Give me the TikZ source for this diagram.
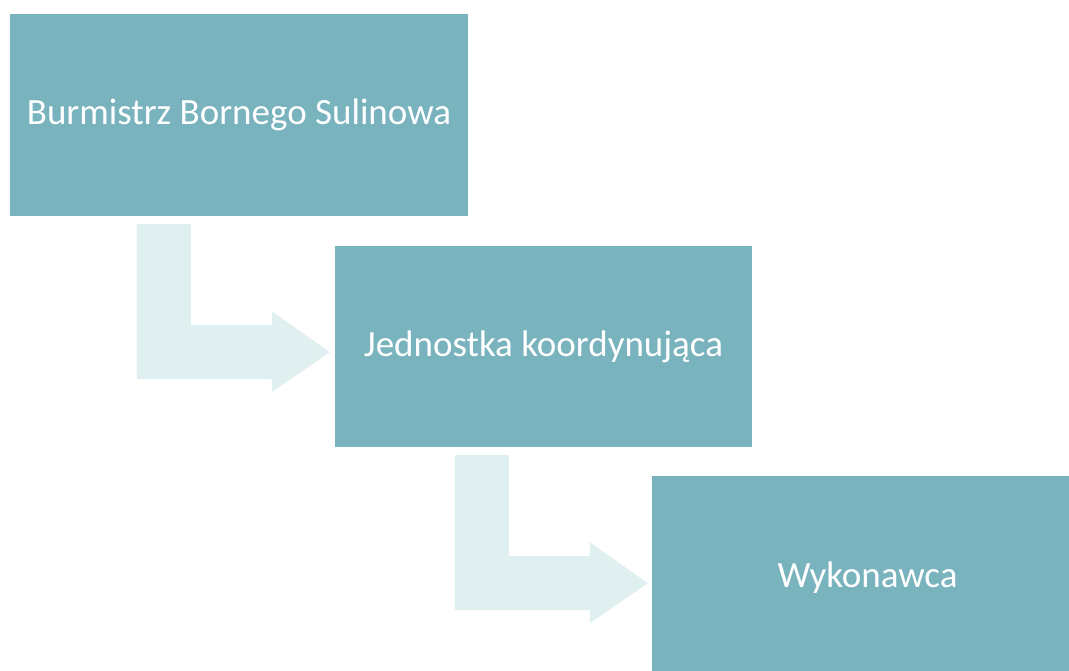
\documentclass[tikz,border=0pt]{standalone}
\usepackage{fontspec}
\setmainfont{Carlito}
\usetikzlibrary{positioning}

\definecolor{boxteal}{HTML}{78B3BE}
\definecolor{flowlight}{HTML}{E0EFF0}

\tikzset{
  orgbox/.style={fill=boxteal, text=white, inner sep=0pt, anchor=center,
    font=\fontsize{37}{44}\selectfont},
  flow/.style={fill=flowlight}
}

\begin{document}
\begin{tikzpicture}[x=1pt,y=1pt]
\useasboundingbox (0,0) rectangle (1069,671);
\node[orgbox, minimum width=458pt, minimum height=202pt] (b1) at (239,556) {Burmistrz Bornego Sulinowa};
\node[orgbox, minimum width=417pt, minimum height=201pt] (b2) at (543.5,324.5) {Jednostka koordynująca};
\node[orgbox, minimum width=431pt, minimum height=204pt] (b3) at (867.5,93) {Wykonawca};
% bent arrows below each box
\foreach \a/\dx in {b1/127,b2/120}
    \fill[flow] ([xshift=\dx pt,yshift=-8pt]\a.south west) -- ++(54,0) -- ++(0,-101)
        -- ++(81,0) -- ++(0,14) -- ++(58,-41) -- ++(-58,-40) -- ++(0,13)
        -- ++(-135,0) -- cycle;
\end{tikzpicture}
\end{document}
